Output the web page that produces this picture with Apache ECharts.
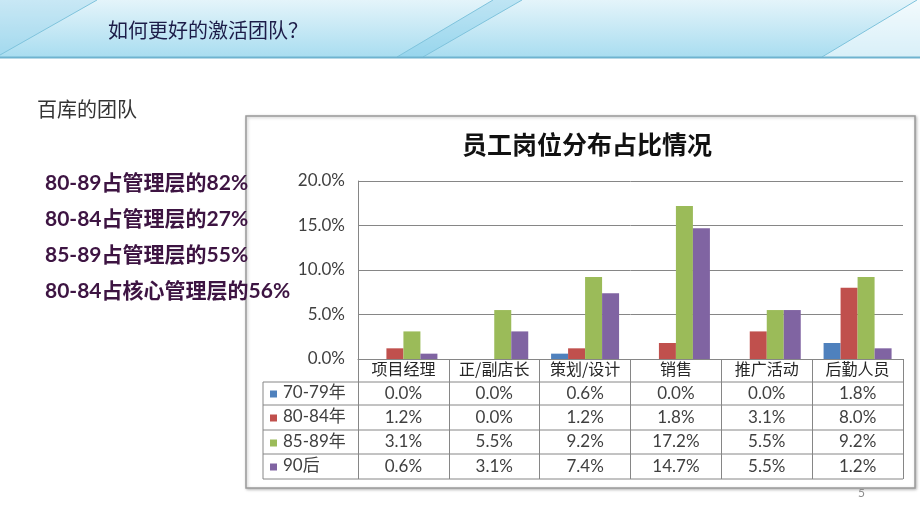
<!DOCTYPE html>
<html>
<head>
<meta charset="utf-8">
<script src="https://cdn.jsdelivr.net/npm/echarts@6/dist/echarts.min.js"></script>
<style>
html,body{margin:0;padding:0;background:#fff;}
#c{width:920px;height:518px;}
</style>
</head>
<body>
<div id="c"></div>
<script>
// ---- data ----
var categories = ['项目经理', '正/副店长', '策划/设计', '销售', '推广活动', '后勤人员'];
var seriesNames = ['70-79年', '80-84年', '85-89年', '90后'];
var s7079 = [0.0, 0.0, 0.6, 0.0, 0.0, 1.8];
var s8084 = [1.2, 0.0, 1.2, 1.8, 3.1, 8.0];
var s8589 = [3.1, 5.5, 9.2, 17.2, 5.5, 9.2];
var s90 = [0.6, 3.1, 7.4, 14.7, 5.5, 1.2];
var yTicks = [0, 5, 10, 15, 20];
var pageTitle = '如何更好的激活团队？';
var subTitle = '百库的团队';
var bullets = ['80-89占管理层的82%', '80-84占管理层的27%', '85-89占管理层的55%', '80-84占核心管理层的56%'];
var chartTitle = '员工岗位分布占比情况';
var pageNo = '5';

var seriesData = [s7079, s8084, s8589, s90];
var colors = ['#4F81BD', '#C0504D', '#9BBB59', '#8064A2'];
var numFont = 'Lato, "Noto Sans CJK SC", sans-serif';
var cjkFont = '"Noto Sans CJK SC", sans-serif';

var chart = echarts.init(document.getElementById('c'));

var gridLeft = 358, gridRight = 903, axisY = 359;
var rowLines = [382, 405, 430, 454, 479];
var rowCenters = [394, 418, 443, 467];

var graphics = [];
// banner
graphics.push({type:'rect', shape:{x:0,y:0,width:920,height:57}, z:-10,
  style:{fill:new echarts.graphic.LinearGradient(0,0,0,1,[{offset:0,color:'#e4f4fa'},{offset:1,color:'#a9ddf0'}])}});
graphics.push({type:'polygon', shape:{points:[[0,0],[97,0],[0,55]]}, z:-9, style:{fill:'rgba(150,210,235,0.35)'}});
graphics.push({type:'polygon', shape:{points:[[397,57],[493,0],[522,0],[423,57]]}, z:-9, style:{fill:'rgba(120,200,232,0.35)'}});
graphics.push({type:'polygon', shape:{points:[[822,57],[917,0],[920,0],[920,57]]}, z:-9, style:{fill:'rgba(255,255,255,0.55)'}});
[[[0,55],[97,0]],[[397,57],[493,0]],[[423,57],[522,0]],[[822,57],[917,0]]].forEach(function(l){
  graphics.push({type:'line', shape:{x1:l[0][0],y1:l[0][1],x2:l[1][0],y2:l[1][1]}, z:-8, style:{stroke:'#7fc3dc',lineWidth:1}});
});
graphics.push({type:'line', shape:{x1:0,y1:57.5,x2:920,y2:57.5}, z:-8, style:{stroke:'#6fb3cf',lineWidth:2}});
graphics.push({type:'text', left:108, top:20, style:{text:pageTitle, fill:'#1c1c48', font:'20px "Noto Sans CJK SC"'}});
graphics.push({type:'text', left:37, top:99, style:{text:subTitle, fill:'#333333', font:'20px "Noto Sans CJK SC"'}});
var by = [187, 223, 259, 295];
bullets.forEach(function(t,i){
  graphics.push({type:'text', left:45, top:by[i]-14, style:{text:t, fill:'#3d1442', font:'bold 21px Lato, "Noto Sans CJK SC"'}});
});
// chart frame
graphics.push({type:'rect', shape:{x:246,y:116,width:669,height:372}, z:-5,
  style:{fill:'#fff', stroke:'#9b9b9b', lineWidth:1.5, shadowBlur:3, shadowColor:'rgba(0,0,0,0.25)', shadowOffsetX:1, shadowOffsetY:1}});
graphics.push({type:'text', left:858, top:487, style:{text:pageNo, fill:'#8c8c8c', font:'12px Lato'}});
// table lines
rowLines.forEach(function(y){
  graphics.push({type:'line', shape:{x1:263,y1:y,x2:gridRight,y2:y}, style:{stroke:'#868686',lineWidth:1}});
});
graphics.push({type:'line', shape:{x1:263,y1:rowLines[0],x2:263,y2:rowLines[4]}, style:{stroke:'#868686',lineWidth:1}});
// legend keys in table
seriesNames.forEach(function(n,i){
  graphics.push({type:'rect', shape:{x:270,y:rowCenters[i]-3.5,width:7,height:7}, style:{fill:colors[i]}});
  graphics.push({type:'text', left:283, top:rowCenters[i]-9.5, style:{text:n, fill:'#404040', font:'17px Lato, "Noto Sans CJK SC"'}});
});

var series = seriesNames.map(function(n,i){
  return {name:n, type:'bar', data:seriesData[i], barWidth:17, barGap:'0%',
    itemStyle:{color:colors[i]}, emphasis:{disabled:true}};
});

chart.setOption({
  animation:false,
  color:colors,
  title:{text:chartTitle, left:582, textAlign:'center', top:127,
    textStyle:{fontFamily:cjkFont, fontWeight:'bold', fontSize:25, color:'#111'}},
  grid:{left:gridLeft, right:920-gridRight, top:181, bottom:518-axisY, containLabel:false},
  xAxis:{type:'category', data:categories,
    axisLine:{show:true, lineStyle:{color:'#868686', width:1}},
    axisTick:{show:true, length:120, alignWithLabel:false, lineStyle:{color:'#868686'}},
    axisLabel:{interval:0, margin:-2,
      formatter:function(v, idx){
        var s = '{c|' + v + '}';
        seriesData.forEach(function(d){ s += '\n{v|' + d[idx].toFixed(1) + '%}'; });
        return s;
      },
      rich:{c:{fontFamily:cjkFont, fontSize:16, lineHeight:24, color:'#262626'},
            v:{fontFamily:numFont, fontSize:17, lineHeight:24.4, color:'#404040'}}}},
  yAxis:{type:'value', min:yTicks[0], max:yTicks[yTicks.length-1], interval:yTicks[1]-yTicks[0],
    axisLine:{show:true, lineStyle:{color:'#868686'}},
    axisTick:{show:false},
    splitLine:{lineStyle:{color:'#868686', width:1}},
    axisLabel:{margin:13, fontFamily:numFont, fontSize:17, color:'#404040',
      formatter:function(v){return v.toFixed(1)+'%';}}},
  graphic:graphics,
  series:series
});
</script>
</body>
</html>
